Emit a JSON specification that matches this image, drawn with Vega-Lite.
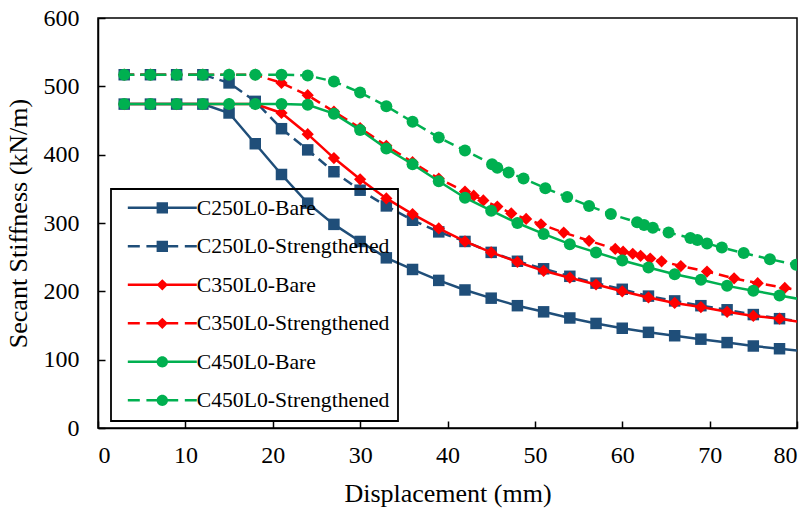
{
  "$schema": "https://vega.github.io/schema/vega-lite/v6.json",
  "autosize": "none",
  "width": 699,
  "height": 410,
  "padding": {"left": 98, "top": 18, "right": 14, "bottom": 80},
  "background": "white",
  "data": {
    "values": [
      {"series": "C250L0-Bare", "disp": 3, "stiffness": 474},
      {"series": "C250L0-Bare", "disp": 6, "stiffness": 474},
      {"series": "C250L0-Bare", "disp": 9, "stiffness": 474},
      {"series": "C250L0-Bare", "disp": 12, "stiffness": 474},
      {"series": "C250L0-Bare", "disp": 15, "stiffness": 461},
      {"series": "C250L0-Bare", "disp": 18, "stiffness": 416},
      {"series": "C250L0-Bare", "disp": 21, "stiffness": 371},
      {"series": "C250L0-Bare", "disp": 24, "stiffness": 329},
      {"series": "C250L0-Bare", "disp": 27, "stiffness": 298},
      {"series": "C250L0-Bare", "disp": 30, "stiffness": 273},
      {"series": "C250L0-Bare", "disp": 33, "stiffness": 249},
      {"series": "C250L0-Bare", "disp": 36, "stiffness": 232},
      {"series": "C250L0-Bare", "disp": 39, "stiffness": 216},
      {"series": "C250L0-Bare", "disp": 42, "stiffness": 202},
      {"series": "C250L0-Bare", "disp": 45, "stiffness": 190},
      {"series": "C250L0-Bare", "disp": 48, "stiffness": 179},
      {"series": "C250L0-Bare", "disp": 51, "stiffness": 170},
      {"series": "C250L0-Bare", "disp": 54, "stiffness": 161},
      {"series": "C250L0-Bare", "disp": 57, "stiffness": 153},
      {"series": "C250L0-Bare", "disp": 60, "stiffness": 146},
      {"series": "C250L0-Bare", "disp": 63, "stiffness": 140},
      {"series": "C250L0-Bare", "disp": 66, "stiffness": 135},
      {"series": "C250L0-Bare", "disp": 69, "stiffness": 130},
      {"series": "C250L0-Bare", "disp": 72, "stiffness": 125},
      {"series": "C250L0-Bare", "disp": 75, "stiffness": 120},
      {"series": "C250L0-Bare", "disp": 78, "stiffness": 116},
      {"series": "C250L0-Bare", "disp": 81, "stiffness": 112},

      {"series": "C250L0-Strengthened", "disp": 3, "stiffness": 517},
      {"series": "C250L0-Strengthened", "disp": 6, "stiffness": 517},
      {"series": "C250L0-Strengthened", "disp": 9, "stiffness": 517},
      {"series": "C250L0-Strengthened", "disp": 12, "stiffness": 517},
      {"series": "C250L0-Strengthened", "disp": 15, "stiffness": 505},
      {"series": "C250L0-Strengthened", "disp": 18, "stiffness": 478},
      {"series": "C250L0-Strengthened", "disp": 21, "stiffness": 438},
      {"series": "C250L0-Strengthened", "disp": 24, "stiffness": 407},
      {"series": "C250L0-Strengthened", "disp": 27, "stiffness": 375},
      {"series": "C250L0-Strengthened", "disp": 30, "stiffness": 348},
      {"series": "C250L0-Strengthened", "disp": 33, "stiffness": 325},
      {"series": "C250L0-Strengthened", "disp": 36, "stiffness": 304},
      {"series": "C250L0-Strengthened", "disp": 39, "stiffness": 287},
      {"series": "C250L0-Strengthened", "disp": 42, "stiffness": 273},
      {"series": "C250L0-Strengthened", "disp": 45, "stiffness": 257},
      {"series": "C250L0-Strengthened", "disp": 48, "stiffness": 244},
      {"series": "C250L0-Strengthened", "disp": 51, "stiffness": 233},
      {"series": "C250L0-Strengthened", "disp": 54, "stiffness": 222},
      {"series": "C250L0-Strengthened", "disp": 57, "stiffness": 212},
      {"series": "C250L0-Strengthened", "disp": 60, "stiffness": 203},
      {"series": "C250L0-Strengthened", "disp": 63, "stiffness": 193},
      {"series": "C250L0-Strengthened", "disp": 66, "stiffness": 186},
      {"series": "C250L0-Strengthened", "disp": 69, "stiffness": 179},
      {"series": "C250L0-Strengthened", "disp": 72, "stiffness": 173},
      {"series": "C250L0-Strengthened", "disp": 75, "stiffness": 166},
      {"series": "C250L0-Strengthened", "disp": 78, "stiffness": 160},
      {"series": "C250L0-Strengthened", "disp": 81, "stiffness": 155},

      {"series": "C350L0-Bare", "disp": 3, "stiffness": 474},
      {"series": "C350L0-Bare", "disp": 6, "stiffness": 474},
      {"series": "C350L0-Bare", "disp": 9, "stiffness": 474},
      {"series": "C350L0-Bare", "disp": 12, "stiffness": 474},
      {"series": "C350L0-Bare", "disp": 15, "stiffness": 474},
      {"series": "C350L0-Bare", "disp": 18, "stiffness": 474},
      {"series": "C350L0-Bare", "disp": 21, "stiffness": 461},
      {"series": "C350L0-Bare", "disp": 24, "stiffness": 430},
      {"series": "C350L0-Bare", "disp": 27, "stiffness": 395},
      {"series": "C350L0-Bare", "disp": 30, "stiffness": 364},
      {"series": "C350L0-Bare", "disp": 33, "stiffness": 336},
      {"series": "C350L0-Bare", "disp": 36, "stiffness": 313},
      {"series": "C350L0-Bare", "disp": 39, "stiffness": 292},
      {"series": "C350L0-Bare", "disp": 42, "stiffness": 273},
      {"series": "C350L0-Bare", "disp": 45, "stiffness": 257},
      {"series": "C350L0-Bare", "disp": 48, "stiffness": 243},
      {"series": "C350L0-Bare", "disp": 51, "stiffness": 230},
      {"series": "C350L0-Bare", "disp": 54, "stiffness": 220},
      {"series": "C350L0-Bare", "disp": 57, "stiffness": 210},
      {"series": "C350L0-Bare", "disp": 60, "stiffness": 200},
      {"series": "C350L0-Bare", "disp": 63, "stiffness": 191},
      {"series": "C350L0-Bare", "disp": 66, "stiffness": 183},
      {"series": "C350L0-Bare", "disp": 69, "stiffness": 177},
      {"series": "C350L0-Bare", "disp": 72, "stiffness": 170},
      {"series": "C350L0-Bare", "disp": 75, "stiffness": 164},
      {"series": "C350L0-Bare", "disp": 78, "stiffness": 160},
      {"series": "C350L0-Bare", "disp": 81, "stiffness": 154},

      {"series": "C350L0-Strengthened", "disp": 3, "stiffness": 517},
      {"series": "C350L0-Strengthened", "disp": 6, "stiffness": 517},
      {"series": "C350L0-Strengthened", "disp": 9, "stiffness": 517},
      {"series": "C350L0-Strengthened", "disp": 12, "stiffness": 517},
      {"series": "C350L0-Strengthened", "disp": 15, "stiffness": 517},
      {"series": "C350L0-Strengthened", "disp": 18, "stiffness": 517},
      {"series": "C350L0-Strengthened", "disp": 21, "stiffness": 505},
      {"series": "C350L0-Strengthened", "disp": 24, "stiffness": 487},
      {"series": "C350L0-Strengthened", "disp": 27, "stiffness": 463},
      {"series": "C350L0-Strengthened", "disp": 30, "stiffness": 439},
      {"series": "C350L0-Strengthened", "disp": 33, "stiffness": 413},
      {"series": "C350L0-Strengthened", "disp": 36, "stiffness": 389},
      {"series": "C350L0-Strengthened", "disp": 39, "stiffness": 365},
      {"series": "C350L0-Strengthened", "disp": 42, "stiffness": 346},
      {"series": "C350L0-Strengthened", "disp": 43, "stiffness": 340},
      {"series": "C350L0-Strengthened", "disp": 44.1, "stiffness": 333},
      {"series": "C350L0-Strengthened", "disp": 45.7, "stiffness": 324},
      {"series": "C350L0-Strengthened", "disp": 47.3, "stiffness": 314},
      {"series": "C350L0-Strengthened", "disp": 49, "stiffness": 306},
      {"series": "C350L0-Strengthened", "disp": 50.7, "stiffness": 298},
      {"series": "C350L0-Strengthened", "disp": 53.3, "stiffness": 286},
      {"series": "C350L0-Strengthened", "disp": 56.2, "stiffness": 274},
      {"series": "C350L0-Strengthened", "disp": 59.2, "stiffness": 262},
      {"series": "C350L0-Strengthened", "disp": 60.1, "stiffness": 258},
      {"series": "C350L0-Strengthened", "disp": 61.2, "stiffness": 255},
      {"series": "C350L0-Strengthened", "disp": 62.1, "stiffness": 252},
      {"series": "C350L0-Strengthened", "disp": 63.2, "stiffness": 248},
      {"series": "C350L0-Strengthened", "disp": 64.5, "stiffness": 244},
      {"series": "C350L0-Strengthened", "disp": 66.7, "stiffness": 237},
      {"series": "C350L0-Strengthened", "disp": 69.7, "stiffness": 229},
      {"series": "C350L0-Strengthened", "disp": 72.8, "stiffness": 219},
      {"series": "C350L0-Strengthened", "disp": 75.5, "stiffness": 212},
      {"series": "C350L0-Strengthened", "disp": 78.6, "stiffness": 205},
      {"series": "C350L0-Strengthened", "disp": 81, "stiffness": 200},

      {"series": "C450L0-Bare", "disp": 3, "stiffness": 474},
      {"series": "C450L0-Bare", "disp": 6, "stiffness": 474},
      {"series": "C450L0-Bare", "disp": 9, "stiffness": 474},
      {"series": "C450L0-Bare", "disp": 12, "stiffness": 474},
      {"series": "C450L0-Bare", "disp": 15, "stiffness": 474},
      {"series": "C450L0-Bare", "disp": 18, "stiffness": 474},
      {"series": "C450L0-Bare", "disp": 21, "stiffness": 474},
      {"series": "C450L0-Bare", "disp": 24, "stiffness": 473},
      {"series": "C450L0-Bare", "disp": 27, "stiffness": 460},
      {"series": "C450L0-Bare", "disp": 30, "stiffness": 436},
      {"series": "C450L0-Bare", "disp": 33, "stiffness": 409},
      {"series": "C450L0-Bare", "disp": 36, "stiffness": 386},
      {"series": "C450L0-Bare", "disp": 39, "stiffness": 361},
      {"series": "C450L0-Bare", "disp": 42, "stiffness": 337},
      {"series": "C450L0-Bare", "disp": 45, "stiffness": 318},
      {"series": "C450L0-Bare", "disp": 48, "stiffness": 300},
      {"series": "C450L0-Bare", "disp": 51, "stiffness": 284},
      {"series": "C450L0-Bare", "disp": 54, "stiffness": 269},
      {"series": "C450L0-Bare", "disp": 57, "stiffness": 257},
      {"series": "C450L0-Bare", "disp": 60, "stiffness": 245},
      {"series": "C450L0-Bare", "disp": 63, "stiffness": 235},
      {"series": "C450L0-Bare", "disp": 66, "stiffness": 225},
      {"series": "C450L0-Bare", "disp": 69, "stiffness": 217},
      {"series": "C450L0-Bare", "disp": 72, "stiffness": 208},
      {"series": "C450L0-Bare", "disp": 75, "stiffness": 201},
      {"series": "C450L0-Bare", "disp": 78, "stiffness": 194},
      {"series": "C450L0-Bare", "disp": 81, "stiffness": 187},

      {"series": "C450L0-Strengthened", "disp": 3, "stiffness": 517},
      {"series": "C450L0-Strengthened", "disp": 6, "stiffness": 517},
      {"series": "C450L0-Strengthened", "disp": 9, "stiffness": 517},
      {"series": "C450L0-Strengthened", "disp": 12, "stiffness": 517},
      {"series": "C450L0-Strengthened", "disp": 15, "stiffness": 517},
      {"series": "C450L0-Strengthened", "disp": 18, "stiffness": 517},
      {"series": "C450L0-Strengthened", "disp": 21, "stiffness": 517},
      {"series": "C450L0-Strengthened", "disp": 24, "stiffness": 516},
      {"series": "C450L0-Strengthened", "disp": 27, "stiffness": 507},
      {"series": "C450L0-Strengthened", "disp": 30, "stiffness": 491},
      {"series": "C450L0-Strengthened", "disp": 33, "stiffness": 471},
      {"series": "C450L0-Strengthened", "disp": 36, "stiffness": 448},
      {"series": "C450L0-Strengthened", "disp": 39, "stiffness": 425},
      {"series": "C450L0-Strengthened", "disp": 42, "stiffness": 406},
      {"series": "C450L0-Strengthened", "disp": 45.1, "stiffness": 386},
      {"series": "C450L0-Strengthened", "disp": 45.7, "stiffness": 381},
      {"series": "C450L0-Strengthened", "disp": 47, "stiffness": 374},
      {"series": "C450L0-Strengthened", "disp": 48.7, "stiffness": 365},
      {"series": "C450L0-Strengthened", "disp": 51.2, "stiffness": 351},
      {"series": "C450L0-Strengthened", "disp": 53.7, "stiffness": 338},
      {"series": "C450L0-Strengthened", "disp": 56.2, "stiffness": 325},
      {"series": "C450L0-Strengthened", "disp": 58.7, "stiffness": 313},
      {"series": "C450L0-Strengthened", "disp": 61.7, "stiffness": 301},
      {"series": "C450L0-Strengthened", "disp": 62.5, "stiffness": 297},
      {"series": "C450L0-Strengthened", "disp": 63.5, "stiffness": 293},
      {"series": "C450L0-Strengthened", "disp": 65.3, "stiffness": 286},
      {"series": "C450L0-Strengthened", "disp": 67.8, "stiffness": 278},
      {"series": "C450L0-Strengthened", "disp": 68.6, "stiffness": 275},
      {"series": "C450L0-Strengthened", "disp": 69.7, "stiffness": 270},
      {"series": "C450L0-Strengthened", "disp": 71.4, "stiffness": 264},
      {"series": "C450L0-Strengthened", "disp": 73.9, "stiffness": 256},
      {"series": "C450L0-Strengthened", "disp": 76.9, "stiffness": 247},
      {"series": "C450L0-Strengthened", "disp": 79.9, "stiffness": 239}
    ]
  },
  "encoding": {
    "x": {
      "field": "disp", "type": "quantitative",
      "scale": {"domain": [0, 80], "nice": false, "zero": false},
      "axis": {"title": "Displacement (mm)", "values": [0, 10, 20, 30, 40, 50, 60, 70, 80], "labelPadding": 22, "titlePadding": 13}
    },
    "y": {
      "field": "stiffness", "type": "quantitative",
      "scale": {"domain": [0, 600], "nice": false},
      "axis": {"title": "Secant Stiffness (kN/m)", "values": [0, 100, 200, 300, 400, 500, 600], "labelPadding": 26, "titlePadding": 12}
    },
    "color": {
      "field": "series", "type": "nominal",
      "scale": {
        "domain": ["C250L0-Bare", "C250L0-Strengthened", "C350L0-Bare", "C350L0-Strengthened", "C450L0-Bare", "C450L0-Strengthened"],
        "range": ["#1F4E79", "#1F4E79", "#FF0000", "#FF0000", "#00B050", "#00B050"]
      },
      "legend": null
    }
  },
  "layer": [
    {
      "mark": {"type": "point", "filled": true, "opacity": 0, "clip": true},
      "encoding": {
        "color": {"value": "black"},
        "fill": {
          "field": "series", "type": "nominal", "sort": "ascending",
          "scale": {"range": ["#1F4E79", "#1F4E79", "#FF0000", "#FF0000", "#00B050", "#00B050"]},
          "legend": {
            "title": null, "orient": "none", "legendX": 13, "legendY": 171, "padding": 8,
            "strokeColor": "black", "symbolSize": 144, "symbolStrokeWidth": 0, "symbolOpacity": 1,
            "labelFont": "Liberation Serif", "labelFontSize": 21.7, "labelColor": "black",
            "labelOffset": 56, "labelLimit": 400, "rowPadding": 15.5
          }
        },
        "shape": {
          "field": "series", "type": "nominal", "sort": "ascending",
          "scale": {
            "range": [
              "M-0.34,-0.21H4.66V0.21H-0.34Z M6.16,-0.21H11.16V0.21H6.16Z M4.46,-0.95H6.36V0.95H4.46Z",
              "M-0.34,-0.21H1.66V0.21H-0.34Z M2.76,-0.21H4.66V0.21H2.76Z M6.16,-0.21H8.06V0.21H6.16Z M9.16,-0.21H11.16V0.21H9.16Z M4.46,-0.95H6.36V0.95H4.46Z",
              "M-0.34,-0.21H4.66V0.21H-0.34Z M6.16,-0.21H11.16V0.21H6.16Z M4.46,0L5.41,-0.95L6.36,0L5.41,0.95Z",
              "M-0.34,-0.21H1.66V0.21H-0.34Z M2.76,-0.21H4.66V0.21H2.76Z M6.16,-0.21H8.06V0.21H6.16Z M9.16,-0.21H11.16V0.21H9.16Z M4.46,0L5.41,-0.95L6.36,0L5.41,0.95Z",
              "M-0.34,-0.21H4.66V0.21H-0.34Z M6.16,-0.21H11.16V0.21H6.16Z M4.46,0A0.95,0.95 0 1,1 6.36,0A0.95,0.95 0 1,1 4.46,0Z",
              "M-0.34,-0.21H1.66V0.21H-0.34Z M2.76,-0.21H4.66V0.21H2.76Z M6.16,-0.21H8.06V0.21H6.16Z M9.16,-0.21H11.16V0.21H9.16Z M4.46,0A0.95,0.95 0 1,1 6.36,0A0.95,0.95 0 1,1 4.46,0Z"
            ]
          },
          "legend": {
            "title": null, "orient": "none", "legendX": 13, "legendY": 171, "padding": 8,
            "strokeColor": "black", "symbolSize": 144, "symbolStrokeWidth": 0, "symbolOpacity": 1,
            "labelFont": "Liberation Serif", "labelFontSize": 21.7, "labelColor": "black",
            "labelOffset": 56, "labelLimit": 400, "rowPadding": 15.5
          }
        }
      }
    },
    {
      "transform": [{"filter": "datum.series === 'C250L0-Bare'"}],
      "layer": [
        {"mark": {"type": "line", "strokeWidth": 2.5, "clip": true}},
        {"mark": {"type": "point", "shape": "square", "filled": true, "size": 132, "opacity": 1, "clip": true}}
      ]
    },
    {
      "transform": [{"filter": "datum.series === 'C250L0-Strengthened'"}],
      "layer": [
        {"mark": {"type": "line", "strokeWidth": 2.5, "strokeDash": [10, 6], "clip": true}},
        {"mark": {"type": "point", "shape": "square", "filled": true, "size": 132, "opacity": 1, "clip": true}}
      ]
    },
    {
      "transform": [{"filter": "datum.series === 'C350L0-Bare'"}],
      "layer": [
        {"mark": {"type": "line", "strokeWidth": 2.5, "clip": true}},
        {"mark": {"type": "point", "shape": "diamond", "filled": true, "size": 150, "opacity": 1, "clip": true}}
      ]
    },
    {
      "transform": [{"filter": "datum.series === 'C350L0-Strengthened'"}],
      "layer": [
        {"mark": {"type": "line", "strokeWidth": 2.5, "strokeDash": [10, 6], "clip": true}},
        {"mark": {"type": "point", "shape": "diamond", "filled": true, "size": 150, "opacity": 1, "clip": true}}
      ]
    },
    {
      "transform": [{"filter": "datum.series === 'C450L0-Bare'"}],
      "layer": [
        {"mark": {"type": "line", "strokeWidth": 2.5, "clip": true}},
        {"mark": {"type": "point", "shape": "circle", "filled": true, "size": 144, "opacity": 1, "clip": true}}
      ]
    },
    {
      "transform": [{"filter": "datum.series === 'C450L0-Strengthened'"}],
      "layer": [
        {"mark": {"type": "line", "strokeWidth": 2.5, "strokeDash": [10, 6], "clip": true}},
        {"mark": {"type": "point", "shape": "circle", "filled": true, "size": 144, "opacity": 1, "clip": true}}
      ]
    }
  ],
  "config": {
    "view": {"stroke": "black", "strokeWidth": 1.5},
    "legend": {"strokeWidth": 1.8},
    "axis": {
      "grid": false,
      "domainColor": "black",
      "domainWidth": 1.5,
      "tickColor": "black",
      "tickWidth": 1.5,
      "tickSize": -7,
      "labelFont": "Liberation Serif",
      "labelFontSize": 24,
      "labelColor": "black",
      "titleFont": "Liberation Serif",
      "titleFontSize": 26,
      "titleFontWeight": "normal",
      "titleColor": "black"
    }
  }
}
